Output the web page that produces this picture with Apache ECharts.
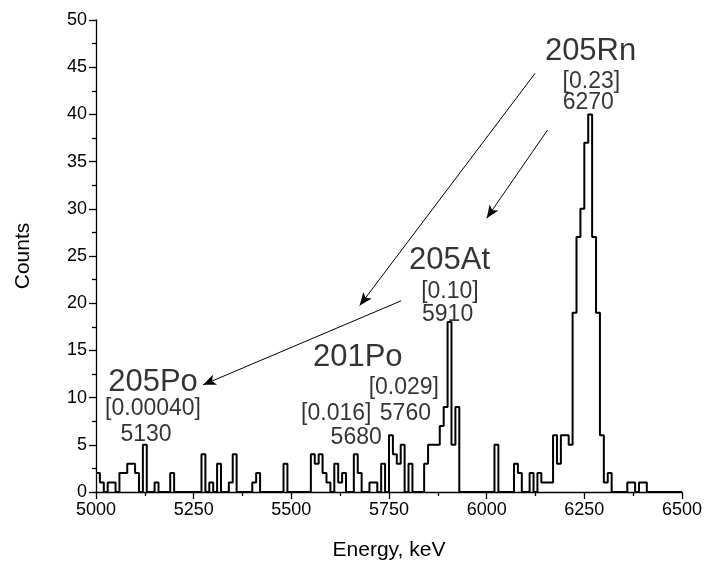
<!DOCTYPE html>
<html>
<head>
<meta charset="utf-8">
<script src="https://cdn.jsdelivr.net/npm/echarts@6/dist/echarts.min.js"></script>
<style>
  html, body { margin: 0; padding: 0; background: #fff; }
  #chart { width: 705px; height: 570px; }
</style>
</head>
<body>
<div id="chart"></div>
<script>
// histogram: 10 keV bins starting at 5000 keV
var binStart = 5000;
var binWidth = 10;
var counts = [
  2, 1, 0, 1, 1, 0, 2, 2, 3, 3,      // 5000-5090
  2, 0, 5, 0, 0, 1, 0, 0, 0, 2,      // 5100-5190
  0, 0, 0, 0, 0, 0, 0, 4, 0, 1,      // 5200-5290
  0, 3, 0, 0, 1, 4, 0, 0, 0, 0,      // 5300-5390
  1, 2, 0, 0, 0, 0, 0, 0, 3, 0,      // 5400-5490
  0, 0, 0, 0, 0, 4, 3, 4, 2, 1,      // 5500-5590
  0, 3, 1, 2, 0, 0, 4, 2, 0, 0,      // 5600-5690
  1, 1, 0, 3, 0, 6, 4, 3, 5, 0,      // 5700-5790
  3, 0, 0, 0, 3, 5, 5, 5, 7, 9,      // 5800-5890
  18, 5, 9, 0, 0, 0, 0, 0, 0, 0,     // 5900-5990
  0, 0, 5, 0, 0, 0, 0, 3, 2, 0,      // 6000-6090
  0, 2, 0, 2, 1, 1, 1, 6, 3, 6,      // 6100-6190
  6, 5, 19, 27, 30, 37, 40, 27, 19, 6, // 6200-6290
  1, 2, 0, 0, 0, 0, 1, 1, 0, 1,      // 6300-6390
  1, 0, 0, 0, 0, 0, 0, 0, 0, 0       // 6400-6490
];

// annotation texts and their anchor points (energy, counts)
var noteText   = ['205Rn', '[0.23]', '6270', '205At', '[0.10]', '5910', '201Po', '[0.029]', '5760', '[0.016]', '5680', '205Po', '[0.00040]', '5130'];
var noteEnergy = [6266, 6268, 6260, 5905, 5906, 5900, 5670, 5788, 5792, 5615, 5666, 5146, 5146, 5128];
var noteCounts = [46.7, 43.5, 41.2, 24.5, 21.2, 18.75, 14.3, 11.1, 8.3, 8.3, 5.75, 11.65, 8.85, 6.05];
var noteBig    = [true, false, false, true, false, false, true, false, false, false, false, true, false, false];

// arrows: [fromEnergy, fromCounts, toEnergy, toCounts]
var arrows = [
  [6124, 44.35, 5675, 19.75],
  [6156, 38.35, 6000, 29.0],
  [5781, 20.25, 5274, 11.35]
];

var font = 'Liberation Sans, Arial, sans-serif';

var stepData = [];
for (var i = 0; i < counts.length; i++) {
  stepData.push([binStart + i * binWidth, counts[i]]);
}
stepData.push([binStart + counts.length * binWidth, 0]);

var notes = [];
for (var j = 0; j < noteText.length; j++) {
  notes.push({
    name: noteText[j],
    value: [noteEnergy[j], noteCounts[j]],
    label: { fontSize: noteBig[j] ? 31 : 23 }
  });
}

var arrowLines = arrows.map(function (a) {
  return [{ coord: [a[0], a[1]] }, { coord: [a[2], a[3]] }];
});

var axisCommon = {
  type: 'value',
  nameLocation: 'middle',
  nameTextStyle: { fontSize: 21, color: '#000', fontFamily: font },
  axisLine: { show: true, lineStyle: { color: '#000', width: 1.3 } },
  axisTick: { show: true, length: 7, lineStyle: { color: '#000', width: 1.3 } },
  minorTick: { show: true, splitNumber: 2, length: 4, lineStyle: { color: '#000', width: 1.3 } },
  axisLabel: {
    fontSize: 18, color: '#000', fontFamily: font, margin: 9,
    formatter: function (v) { return String(v); }
  },
  splitLine: { show: false }
};

var option = {
  animation: false,
  backgroundColor: '#ffffff',
  grid: { left: 96, right: 22, top: 20, bottom: 78 },
  xAxis: Object.assign({}, axisCommon, {
    min: 5000,
    max: 6500,
    interval: 250,
    name: 'Energy, keV',
    nameGap: 48
  }),
  yAxis: Object.assign({}, axisCommon, {
    min: 0,
    max: 50,
    interval: 5,
    name: 'Counts',
    nameGap: 62,
    nameRotate: 90
  }),
  series: [
    {
      type: 'line',
      step: 'end',
      data: stepData,
      symbol: 'none',
      lineStyle: { color: '#000', width: 2 },
      markLine: {
        silent: true,
        symbol: ['none', 'arrow'],
        symbolSize: [8, 13],
        label: { show: false },
        lineStyle: { color: '#000', width: 1, type: 'solid' },
        data: arrowLines
      }
    },
    {
      type: 'scatter',
      data: notes,
      symbolSize: 0,
      silent: true,
      label: {
        show: true,
        position: 'inside',
        formatter: '{b}',
        color: '#000',
        textBorderWidth: 0,
        textBorderColor: 'transparent',
        fontFamily: font
      }
    }
  ]
};

var myChart = echarts.init(document.getElementById('chart'));
myChart.setOption(option);
</script>
</body>
</html>
